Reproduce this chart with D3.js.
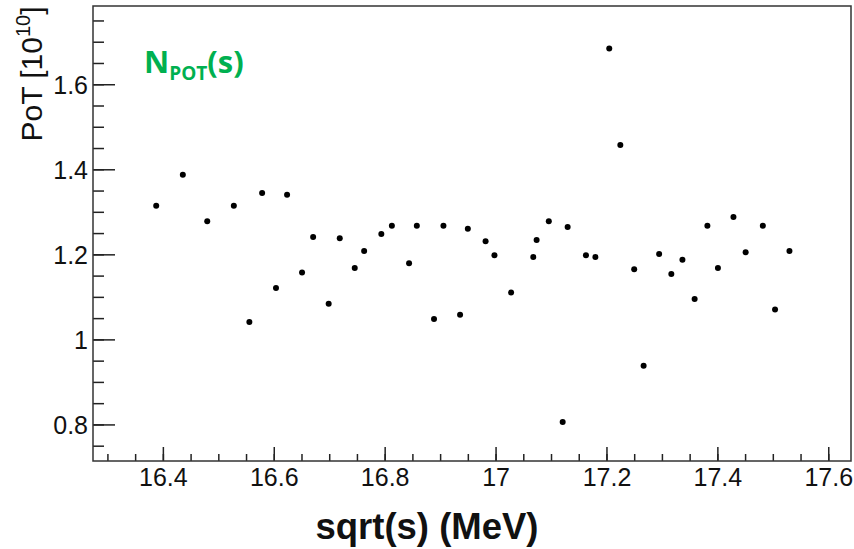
<!DOCTYPE html>
<html>
<head>
<meta charset="utf-8">
<script src="https://cdn.jsdelivr.net/npm/d3@7"></script>
<style>
  body { margin: 0; padding: 0; background: #fff; }
  svg { display: block; }
</style>
</head>
<body>
<script>
// sqrt(s) in MeV
const sqrtS = [
  16.388, 16.436, 16.480, 16.528, 16.556, 16.579, 16.604, 16.624, 16.651, 16.671,
  16.699, 16.719, 16.746, 16.763, 16.794, 16.813, 16.844, 16.858, 16.889, 16.906,
  16.936, 16.950, 16.982, 16.998, 17.028, 17.068, 17.074, 17.096, 17.121, 17.130,
  17.163, 17.180, 17.205, 17.225, 17.250, 17.267, 17.295, 17.317, 17.337, 17.359,
  17.382, 17.401, 17.429, 17.451, 17.482, 17.504, 17.530
];
// PoT in units of 1e10
const pot = [
  1.314, 1.387, 1.278, 1.314, 1.041, 1.344, 1.121, 1.340, 1.157, 1.241,
  1.084, 1.238, 1.168, 1.208, 1.248, 1.267, 1.179, 1.267, 1.048, 1.267,
  1.058, 1.260, 1.231, 1.198, 1.110, 1.194, 1.234, 1.278, 0.806, 1.264,
  1.198, 1.194, 1.684, 1.457, 1.165, 0.938, 1.201, 1.154, 1.187, 1.095,
  1.267, 1.168, 1.288, 1.205, 1.267, 1.070, 1.208
];

const xTicks = [16.4, 16.6, 16.8, 17, 17.2, 17.4, 17.6];
const xTickLabels = ["16.4", "16.6", "16.8", "17", "17.2", "17.4", "17.6"];
const yTicks = [0.8, 1, 1.2, 1.4, 1.6];
const yTickLabels = ["0.8", "1", "1.2", "1.4", "1.6"];

const width = 854;
const height = 549;
const padL = 93, padR = 851, padT = 6, padB = 461;

const x = d3.scaleLinear().domain([16.274, 17.641]).range([padL, padR]);
const y = d3.scaleLinear().domain([0.714, 1.784]).range([padB, padT]);

const svg = d3.select("body")
  .append("svg")
  .attr("width", width)
  .attr("height", height)
  .style("background", "#fff")
  .style("font-family", "'Liberation Sans', Arial, Helvetica, sans-serif");

// minor ticks every 0.05
const xMinor = d3.range(16.3, 17.64, 0.05).filter(v => v < 17.641);
const yMinor = d3.range(0.75, 1.78, 0.05);

// x axis
svg.append("g")
  .attr("transform", `translate(0,${padB})`)
  .call(d3.axisBottom(x).tickValues(xMinor).tickSize(-7).tickFormat(""))
  .call(g => g.select(".domain").remove());

svg.append("g")
  .attr("transform", `translate(0,${padB})`)
  .call(d3.axisBottom(x).tickValues(xTicks).tickSize(-14)
    .tickFormat((d, i) => xTickLabels[i]))
  .call(g => g.select(".domain").remove())
  .call(g => g.selectAll("text")
    .attr("dy", "0")
    .attr("y", 25)
    .style("font-size", "25px")
    .style("font-family", "'Liberation Sans', Arial, sans-serif")
    .attr("fill", "#111"));

// y axis
svg.append("g")
  .attr("transform", `translate(${padL},0)`)
  .call(d3.axisLeft(y).tickValues(yMinor).tickSize(-11).tickFormat(""))
  .call(g => g.select(".domain").remove());

svg.append("g")
  .attr("transform", `translate(${padL},0)`)
  .call(d3.axisLeft(y).tickValues(yTicks).tickSize(-22)
    .tickFormat((d, i) => yTickLabels[i]))
  .call(g => g.select(".domain").remove())
  .call(g => g.selectAll("text")
    .attr("x", -5)
    .attr("dy", "0.36em")
    .style("font-size", "25px")
    .style("font-family", "'Liberation Sans', Arial, sans-serif")
    .attr("fill", "#111"));

svg.selectAll(".tick line").attr("stroke", "#222").attr("stroke-width", 1.5);

// frame
svg.append("rect")
  .attr("x", padL)
  .attr("y", padT)
  .attr("width", padR - padL)
  .attr("height", padB - padT)
  .attr("fill", "none")
  .attr("stroke", "#333")
  .attr("stroke-width", 1.5);

// points
svg.append("g")
  .selectAll("circle")
  .data(sqrtS.map((s, i) => [s, pot[i]]))
  .join("circle")
  .attr("cx", d => x(d[0]))
  .attr("cy", d => y(d[1]))
  .attr("r", 3)
  .attr("fill", "#000");

// axis titles
svg.append("text")
  .attr("x", 427)
  .attr("y", 539)
  .attr("text-anchor", "middle")
  .style("font-size", "36.5px")
  .style("font-weight", "bold")
  .attr("fill", "#111")
  .text("sqrt(s) (MeV)");

const yTitle = svg.append("text")
  .attr("transform", "translate(42,74) rotate(-90)")
  .attr("text-anchor", "middle")
  .style("font-size", "30px")
  .attr("fill", "#111");
yTitle.append("tspan").text("PoT [10");
yTitle.append("tspan").attr("dy", -12).style("font-size", "20px").text("10");
yTitle.append("tspan").attr("dy", 12).text("]");

// green label
const lbl = svg.append("text")
  .attr("x", 144)
  .attr("y", 73)
  .style("font-family", "'Open Sans', sans-serif")
  .style("font-weight", "bold")
  .style("font-size", "31px")
  .attr("fill", "#00B050");
lbl.append("tspan").text("N");
lbl.append("tspan").attr("dy", 7).style("font-size", "19px").text("POT");
lbl.append("tspan").attr("dy", -7).text("(s)");
</script>
</body>
</html>
